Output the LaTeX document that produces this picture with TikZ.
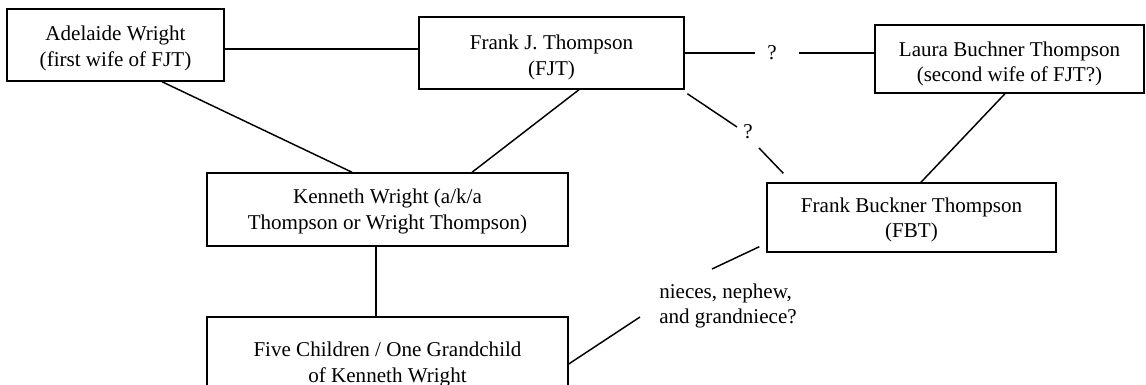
\documentclass[tikz,border=0pt]{standalone}
\usepackage{fontspec}
\setmainfont{Liberation Serif}
\newcommand{\boxtxt}[2]{\raisebox{-#1}[\height][\depth]{\begin{tabular}{@{}c@{}}#2\end{tabular}}}
\begin{document}
\begin{tikzpicture}[x=0.75pt,y=-0.75pt,
  every node/.style={font=\fontsize{15.8pt}{19.2pt}\selectfont},
  box/.style={draw,line width=1.1pt,rectangle,inner sep=0pt},
  lbl/.style={inner sep=0pt},
  conn/.style={line width=1.1pt}]
\clip (0,0) rectangle (1146,385);
\fill[white] (0,0) rectangle (1146,385);
% boxes
\node[box,minimum width=217*0.75pt,minimum height=72*0.75pt] (ad) at (115.5,45) {\boxtxt{2.6pt}{Adelaide Wright\\(first wife of FJT)}};
\node[box,minimum width=265*0.75pt,minimum height=72*0.75pt] (fjt) at (551.5,53) {\boxtxt{3.4pt}{Frank J. Thompson\\(FJT)}};
\node[box,minimum width=269*0.75pt,minimum height=68*0.75pt] (lbt) at (1009.5,59) {\boxtxt{3.75pt}{Laura Buchner Thompson\\(second wife of FJT?)}};
\node[box,minimum width=361*0.75pt,minimum height=73*0.75pt] (kw) at (387.5,209.5) {\boxtxt{1.5pt}{Kenneth Wright (a/k/a\\Thompson or Wright Thompson)}};
\node[box,minimum width=289*0.75pt,minimum height=69*0.75pt] (fbt) at (911.5,217.5) {\boxtxt{1.9pt}{Frank Buckner Thompson\\(FBT)}};
\node[box,minimum width=361*0.75pt,minimum height=91*0.75pt] (fc) at (387.5,362.5) {\boxtxt{1.5pt}{Five Children / One Grandchild\\of Kenneth Wright}};
% labels
\node[lbl] (q1) at (772,53) {?};
\node[lbl] (q2) at (748,132) {?};
\node[lbl,align=left,anchor=west] (nn) at (659,306) {nieces, nephew,\\and grandniece?};
% free ends
\coordinate (q1l) at (755,53);
\coordinate (q1r) at (799,53);
\coordinate (q2a) at (737,127);
\coordinate (q2b) at (759,148);
\coordinate (n1) at (712,269);
\coordinate (n2) at (640,317);
% connectors
\draw[conn] ([yshift=-3pt]ad.east) -- ([yshift=3pt]fjt.west);
\draw[conn] ([xshift=34.9pt]ad.south) -- ([xshift=-26.6pt]kw.north);
\draw[conn] ([xshift=20.6pt]fjt.south) -- ([xshift=63.4pt]kw.north);
\draw[conn] (fjt.east) -- (q1l);
\draw[conn] (q1r) -- ([yshift=4.5pt]lbt.west);
\draw[conn] ([xshift=2pt,yshift=-3pt]fjt.south east) -- (q2a);
\draw[conn] (q2b) -- ([xshift=12.75pt,yshift=6.75pt]fbt.north west);
\draw[conn] ([xshift=-3.4pt]lbt.south) -- ([xshift=7.1pt]fbt.north);
\draw[conn] ([xshift=-8.6pt]kw.south) -- ([xshift=-8.6pt]fc.north);
\draw[conn] ([xshift=-5.25pt,yshift=4.5pt]fbt.south west) -- (n1);
\draw[conn] (n2) -- ([yshift=-1.1pt]fc.east);
\end{tikzpicture}
\end{document}
